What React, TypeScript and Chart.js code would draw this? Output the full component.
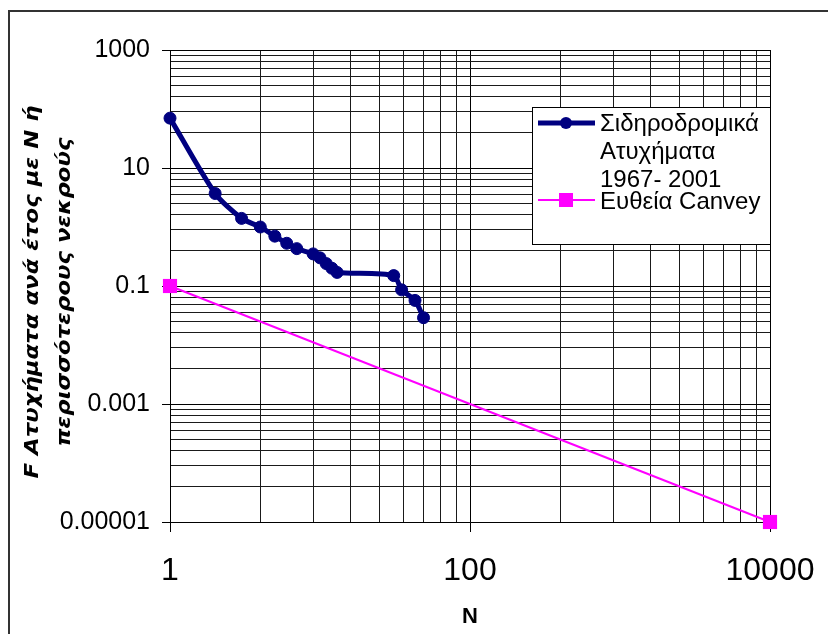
import React, { useEffect, useRef } from 'react';
import { Chart, registerables } from 'chart.js';
Chart.register(...registerables);

// Data
const railN = [1, 2, 3, 4, 5, 6, 7, 9, 10, 11, 12, 13, 31, 35, 43, 49];
const railF = [70, 3.7, 1.4, 1.0, 0.7, 0.53, 0.43, 0.35, 0.3, 0.24, 0.2, 0.17, 0.15, 0.086, 0.057, 0.029];
const canveyN = [1, 10000];
const canveyF = [0.1, 0.00001];

// Axes
const xMajorTicks = [1, 100, 10000];
const xTickLabels = ['1', '100', '10000'];
const yMajorTicks = [0.00001, 0.001, 0.1, 10, 1000];
const yTickLabels = ['0.00001', '0.001', '0.1', '10', '1000'];

// Texts
const railLabel = ['Σιδηροδρομικά', 'Ατυχήματα', '1967- 2001'];
const canveyLabel = 'Ευθεία Canvey';
const yTitle = ['F Ατυχήματα ανά έτος με N ή', 'περισσότερους νεκρούς'];
const xTitle = 'N';

const NAVY = '#000080';
const MAGENTA = '#FF00FF';

function buildTicks(majors: number[]) {
  const out: { value: number; major: boolean }[] = [];
  for (let i = 0; i < majors.length - 1; i++) {
    for (let k = 1; k <= 9; k++) {
      out.push({ value: majors[i] * k * k, major: k === 1 });
    }
  }
  out.push({ value: majors[majors.length - 1], major: true });
  return out;
}

function labelFor(value: number, majors: number[], labels: string[]) {
  const i = majors.findIndex((m) => Math.abs(Math.log10(m) - Math.log10(value)) < 1e-6);
  return i >= 0 ? labels[i] : '';
}

const decorPlugin = {
  id: 'decor',
  beforeDraw(chart: any) {
    const ctx = chart.ctx;
    ctx.save();
    ctx.fillStyle = '#fff';
    ctx.fillRect(0, 0, chart.width, chart.height);
    ctx.restore();
  },
  afterDraw(chart: any) {
    const ctx = chart.ctx;
    ctx.save();
    // outer frame
    ctx.strokeStyle = '#333';
    ctx.lineWidth = 2;
    ctx.beginPath();
    ctx.moveTo(9, 634);
    ctx.lineTo(9, 11);
    ctx.lineTo(828, 11);
    ctx.stroke();

    // legend box
    ctx.fillStyle = '#fff';
    ctx.fillRect(532, 107, 239, 138);
    ctx.strokeStyle = '#000';
    ctx.lineWidth = 1;
    ctx.strokeRect(532.5, 107.5, 238, 137);

    // rail sample
    ctx.strokeStyle = NAVY;
    ctx.lineWidth = 5;
    ctx.beginPath();
    ctx.moveTo(538, 123);
    ctx.lineTo(595, 123);
    ctx.stroke();
    ctx.fillStyle = NAVY;
    ctx.beginPath();
    ctx.arc(566, 123, 6, 0, Math.PI * 2);
    ctx.fill();

    // canvey sample
    ctx.strokeStyle = MAGENTA;
    ctx.lineWidth = 2;
    ctx.beginPath();
    ctx.moveTo(538, 200);
    ctx.lineTo(595, 200);
    ctx.stroke();
    ctx.fillStyle = MAGENTA;
    ctx.fillRect(559, 193, 14, 14);

    ctx.fillStyle = '#000';
    ctx.font = '24px "Liberation Sans", Arial, sans-serif';
    ctx.textAlign = 'left';
    ctx.textBaseline = 'middle';
    const ys = [124, 152, 180];
    railLabel.forEach((t, i) => ctx.fillText(t, 600, ys[i]));
    ctx.fillText(canveyLabel, 600, 202);

    // y title (stretched along the text direction like the reference)
    ctx.font = 'italic bold 20px "DejaVu Sans", sans-serif';
    ctx.textAlign = 'center';
    ctx.textBaseline = 'alphabetic';
    const w0 = ctx.measureText(yTitle[0]).width;
    const stretch = 373 / w0;
    const xs = [38, 70];
    yTitle.forEach((t, i) => {
      ctx.save();
      ctx.translate(xs[i], 292);
      ctx.rotate(-Math.PI / 2);
      ctx.scale(stretch, 1);
      ctx.fillText(t, 0, 0);
      ctx.restore();
    });

    // x title
    ctx.font = 'bold 22px "Liberation Sans", Arial, sans-serif';
    ctx.textBaseline = 'middle';
    ctx.fillText(xTitle, 470, 617);
    ctx.restore();
  },
};

export default function App() {
  const ref = useRef<HTMLCanvasElement | null>(null);
  useEffect(() => {
    document.body.style.margin = '0';
    const canvas = ref.current!;
    const chart = new Chart(canvas, {
      type: 'line',
      data: {
        datasets: [
          {
            label: railLabel.join(' '),
            data: railN.map((n, i) => ({ x: n, y: railF[i] })),
            borderColor: NAVY,
            backgroundColor: NAVY,
            borderWidth: 5,
            pointRadius: 6,
            pointBorderWidth: 1,
            pointBackgroundColor: NAVY,
            pointBorderColor: NAVY,
            tension: 0.25,
            clip: false as any,
          },
          {
            label: canveyLabel,
            data: canveyN.map((n, i) => ({ x: n, y: canveyF[i] })),
            borderColor: MAGENTA,
            backgroundColor: MAGENTA,
            borderWidth: 2,
            pointStyle: 'rect',
            pointRadius: 10,
            pointBorderWidth: 0,
            pointBackgroundColor: MAGENTA,
            clip: false as any,
          },
        ],
      },
      options: {
        animation: false,
        responsive: false,
        devicePixelRatio: 1,
        layout: { padding: { left: 0, top: 50, right: 58, bottom: 0 } },
        plugins: { legend: { display: false }, tooltip: { enabled: false } },
        scales: {
          x: {
            type: 'logarithmic',
            min: 1,
            max: 10000,
            afterFit: (s: any) => {
              s.height = 112;
              s.paddingLeft = 0;
              s.paddingRight = 0;
            },
            afterBuildTicks: (s: any) => {
              s.ticks = buildTicks(xMajorTicks);
            },
            border: { color: '#000', width: 1 },
            grid: {
              color: (c: any) => (c.tick && c.tick.major ? '#000' : '#1a1a1a'),
              lineWidth: 1,
              tickLength: 10,
              tickColor: (c: any) => (c.tick && c.tick.major ? '#000' : 'rgba(0,0,0,0)'),
            },
            ticks: {
              autoSkip: false,
              maxRotation: 0,
              padding: 20,
              color: '#000',
              font: { family: '"Liberation Sans", Arial, sans-serif', size: 32 },
              callback: (v: any) => labelFor(Number(v), xMajorTicks, xTickLabels),
            },
          },
          y: {
            type: 'logarithmic',
            min: 0.00001,
            max: 1000,
            afterFit: (s: any) => {
              s.width = 170;
              s.paddingTop = 0;
              s.paddingBottom = 0;
            },
            afterBuildTicks: (s: any) => {
              s.ticks = buildTicks(yMajorTicks);
            },
            border: { color: '#000', width: 1 },
            grid: {
              color: (c: any) => (c.tick && c.tick.major ? '#000' : '#1a1a1a'),
              lineWidth: 1,
              tickLength: 8,
              tickColor: (c: any) => (c.tick && c.tick.major ? '#000' : 'rgba(0,0,0,0)'),
            },
            ticks: {
              autoSkip: false,
              padding: 12,
              color: '#000',
              font: { family: '"Liberation Sans", Arial, sans-serif', size: 25 },
              callback: (v: any) => labelFor(Number(v), yMajorTicks, yTickLabels),
            },
          },
        },
      },
      plugins: [decorPlugin],
    });
    return () => chart.destroy();
  }, []);
  return (
    <div style={{ position: 'relative', width: 828, height: 634 }}>
      <canvas ref={ref} width={828} height={634} style={{ display: 'block' }} />
    </div>
  );
}
